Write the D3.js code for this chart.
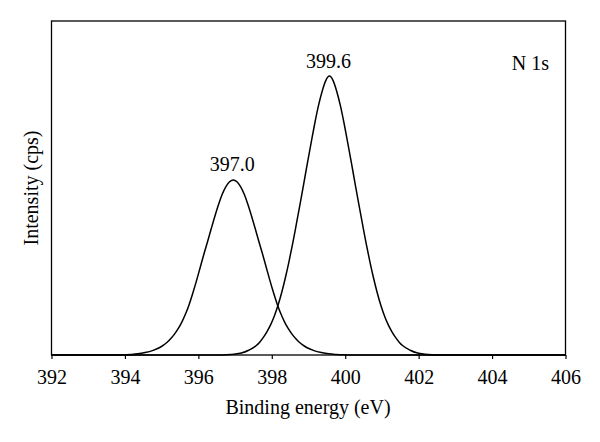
<!DOCTYPE html>
<html>
<head>
<meta charset="utf-8">
<script src="https://cdn.jsdelivr.net/npm/d3@7/dist/d3.min.js"></script>
<style>
  html, body { margin: 0; padding: 0; background: #fff; }
  text { font-family: "Liberation Serif", "DejaVu Serif", serif; fill: #000; }
</style>
</head>
<body>
<svg id="xpsChart" width="600" height="442"></svg>
<script>
// N 1s fitted components (cps, arbitrary scale)
const energyLow = [392,
  393.65, 393.95, 394.15, 394.35, 394.55, 394.75,
  394.95, 395.05, 395.15, 395.25, 395.35, 395.45, 395.55, 395.65, 395.75, 395.85,
  395.95, 396.05, 396.15, 396.25, 396.35, 396.45, 396.55, 396.65, 396.75, 396.85,
  396.95,
  397.05, 397.15, 397.25, 397.35, 397.45, 397.55, 397.65, 397.75, 397.85, 397.95,
  398.05, 398.15, 398.25, 398.35, 398.45, 398.55, 398.65, 398.75, 398.85, 398.95,
  399.15, 399.35, 399.55, 399.75, 399.95, 400.25,
  406];
const intensityLow = [0,
  0, 6, 19, 41, 88, 157,
  270, 352, 459, 591, 749, 944, 1183, 1472, 1818, 2227,
  2673, 3145, 3617, 4070, 4535, 4988, 5409, 5774, 6051, 6227,
  6290,
  6227, 6051, 5774, 5409, 4988, 4535, 4070, 3617, 3145, 2673,
  2227, 1818, 1472, 1183, 944, 749, 591, 459, 352, 270,
  157, 88, 41, 19, 6, 0,
  0];

const energyHigh = [392,
  396.57, 396.77, 396.97, 397.17, 397.37,
  397.57, 397.67, 397.77, 397.87, 397.97, 398.07, 398.17, 398.27, 398.37, 398.47,
  398.57, 398.67, 398.77, 398.87, 398.97, 399.07, 399.17, 399.27, 399.37, 399.47,
  399.57,
  399.67, 399.77, 399.87, 399.97, 400.07, 400.17, 400.27, 400.37, 400.47, 400.57,
  400.67, 400.77, 400.87, 400.97, 401.07, 401.17, 401.27, 401.37, 401.47, 401.57,
  401.77, 401.97, 402.17, 402.37, 402.57,
  406];
const intensityHigh = [0,
  0, 10, 30, 70, 170,
  331, 461, 631, 842, 1092, 1403, 1784, 2244, 2776, 3367,
  4008, 4709, 5421, 6152, 6894, 7615, 8317, 8948, 9469, 9860,
  10020,
  9860, 9469, 8948, 8317, 7615, 6894, 6152, 5421, 4709, 4008,
  3367, 2776, 2244, 1784, 1403, 1092, 842, 631, 461, 331,
  170, 70, 30, 10, 0,
  0];

const peakEnergies = [396.95, 399.57];
const peakIntensities = [6290, 10020];
const peakLabels = ['397.0', '399.6'];
const xTicks = [392, 394, 396, 398, 400, 402, 404, 406];

const margin = { top: 21, right: 34.5, bottom: 87, left: 51.5 };
const width = 600 - margin.left - margin.right;
const height = 442 - margin.top - margin.bottom;
const fontSize = '20px';

const svg = d3.select('#xpsChart');
const g = svg.append('g')
  .attr('transform', `translate(${margin.left}, ${margin.top})`);

const xScale = d3.scaleLinear().domain([392, 406]).range([0, width]);
const yScale = d3.scaleLinear().domain([0, 12000]).range([height, 0]);

const line = d3.line()
  .x(d => xScale(d[0]))
  .y(d => yScale(d[1]))
  .curve(d3.curveMonotoneX);

const series = [
  d3.zip(energyLow, intensityLow),
  d3.zip(energyHigh, intensityHigh),
];

g.selectAll('path.component')
  .data(series)
  .enter()
  .append('path')
  .attr('class', 'component')
  .attr('d', line)
  .attr('fill', 'none')
  .attr('stroke', '#000')
  .attr('stroke-width', 1.5);

// x axis, ticks pointing down
const xAxis = g.append('g')
  .attr('transform', `translate(0, ${height})`)
  .call(d3.axisBottom(xScale).tickValues(xTicks).tickSize(4).tickSizeOuter(0).tickFormat(d3.format('d')));
xAxis.select('.domain').remove();
xAxis.selectAll('line').attr('stroke', '#000').attr('stroke-width', 1.2);
xAxis.selectAll('text')
  .attr('y', 29)
  .attr('dy', null)
  .style('font-size', fontSize)
  .style('font-family', '"Liberation Serif", serif');

// plot frame
g.append('rect')
  .attr('x', 0)
  .attr('y', 0)
  .attr('width', width)
  .attr('height', height)
  .attr('fill', 'none')
  .attr('stroke', '#000')
  .attr('stroke-width', 1.3);

// peak position labels
g.selectAll('text.peak')
  .data(peakLabels)
  .enter()
  .append('text')
  .attr('class', 'peak')
  .attr('x', (d, i) => xScale(peakEnergies[i]) - 1)
  .attr('y', (d, i) => yScale(peakIntensities[i]) - 8.5)
  .attr('text-anchor', 'middle')
  .style('font-size', fontSize)
  .text(d => d);

g.append('text')
  .attr('x', width - 16.5)
  .attr('y', 48.5)
  .attr('text-anchor', 'end')
  .style('font-size', fontSize)
  .text('N 1s');

svg.append('text')
  .attr('x', margin.left + width / 2 - 0.5)
  .attr('y', 414)
  .attr('text-anchor', 'middle')
  .style('font-size', fontSize)
  .text('Binding energy (eV)');

svg.append('text')
  .attr('transform', `translate(38, ${margin.top + height / 2}) rotate(-90)`)
  .attr('text-anchor', 'middle')
  .style('font-size', fontSize)
  .text('Intensity (cps)');
</script>
</body>
</html>
